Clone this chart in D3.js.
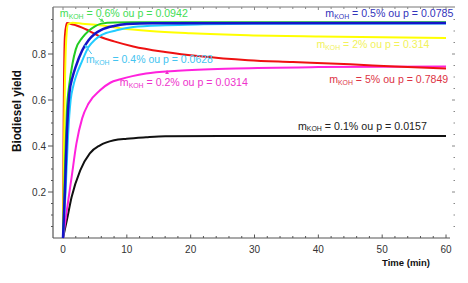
<!DOCTYPE html>
<html><head><meta charset="utf-8">
<script src="https://cdn.jsdelivr.net/npm/d3@7"></script>
<style>
body{margin:0;background:#fff;}
svg{display:block;}
text{font-family:"Liberation Sans",Arial,sans-serif;}
</style></head>
<body><svg id="c" width="468" height="283"></svg>
<script>
// ---- data (time in min, yield fraction) ----
const xTicks = [0, 10, 20, 30, 40, 50, 60];
const yTicks = [0.2, 0.4, 0.6, 0.8];
const red5 = [[0,0],[0.1,0.5],[0.3,0.88],[0.6,0.935],[1,0.933],[2,0.925],[3,0.915],[4,0.902],[6,0.873],[8,0.855],[11,0.833],[16,0.809],[21.5,0.79],[29,0.773],[36,0.765],[45,0.755],[52,0.746],[60,0.737]];
const yellow2 = [[0,0],[0.2,0.5],[0.5,0.86],[0.8,0.93],[1.5,0.936],[3,0.932],[5.8,0.925],[9,0.912],[13.6,0.9],[20,0.89],[29,0.881],[40,0.876],[50,0.873],[60,0.87]];
const green06 = [[0,0],[0.3,0.3],[0.6,0.55],[1,0.67],[1.5,0.76],[2,0.82],[3,0.87],[4,0.9],[5,0.92],[6,0.932],[8,0.937],[12,0.938],[60,0.938]];
const blue05 = [[0,0],[0.3,0.2],[0.6,0.45],[1,0.63],[1.5,0.7],[2,0.745],[3,0.815],[4,0.86],[5,0.888],[6,0.905],[8,0.922],[10,0.93],[14,0.934],[60,0.935]];
const cyan04 = [[0,0],[0.4,0.2],[0.8,0.45],[1.2,0.6],[1.6,0.66],[2,0.7],[3,0.77],[4,0.83],[5,0.862],[6,0.882],[8.4,0.903],[11,0.917],[16,0.925],[22,0.929],[30,0.931],[60,0.933]];
const magenta02 = [[0,0],[0.6,0.12],[1.35,0.265],[2.1,0.41],[3,0.52],[4,0.585],[5.8,0.642],[7.4,0.675],[9,0.69],[13,0.715],[18,0.727],[27,0.737],[40,0.743],[60,0.746]];
const black01 = [[0,0],[0.6,0.077],[1.35,0.178],[2.7,0.294],[4.2,0.368],[5.8,0.403],[8,0.425],[10,0.432],[13,0.438],[16,0.442],[25,0.443],[60,0.443]];
const seriesData = [black01, magenta02, red5, yellow2, cyan04, green06, blue05];
const seriesColors = ["#111111", "#ff22dd", "#ee1111", "#ffff00", "#22ccff", "#22cc22", "#1414c8"];
const seriesWidths = [2, 2, 2, 2, 2, 2, 2.5];
const labelMass = ["0.1%", "0.2%", "5%", "2%", "0.4%", "0.6%", "0.5%"];
const labelP = ["0.0157", "0.0314", "0.7849", "0.314", "0.0628", "0.0942", "0.0785"];
const labelColors = ["#222222", "#ee33cc", "#dd3344", "#f2f25a", "#44c4f0", "#44dd55", "#3434bb"];
// annotation anchors: [time, yield, width]
const labelAnchors = [[36.8,0.47,129],[8.9,0.66,128],[41.7,0.673,119],[39.7,0.825,113],[3.6,0.76,127],[-0.5,0.96,128],[41.1,0.96,128]];

const svg = d3.select("#c");
const x = d3.scaleLinear().domain([-1.567, 61.25]).range([53, 454]);
const y = d3.scaleLinear().domain([0, 1]).range([238, 8]);
const axisCol = "#555";

// frame lines
svg.append("line").attr("x1",53).attr("x2",53).attr("y1",7).attr("y2",238).attr("stroke",axisCol).attr("stroke-width",1.2);
svg.append("line").attr("x1",53).attr("x2",450).attr("y1",238).attr("y2",238).attr("stroke",axisCol).attr("stroke-width",1.2);
svg.append("line").attr("x1",53).attr("x2",455).attr("y1",7).attr("y2",7).attr("stroke","#777").attr("stroke-width",1);

// minor ticks
const xMinor = d3.range(0, 61, 2);
const yMinor = d3.range(0.05, 1.0, 0.05);
svg.append("g").selectAll("line").data(xMinor).join("line")
  .attr("x1",d=>x(d)).attr("x2",d=>x(d)).attr("y1",238).attr("y2",d=>d%10===0?234.5:236)
  .attr("stroke",axisCol).attr("stroke-width",1);
svg.append("g").selectAll("line").data(xMinor).join("line")
  .attr("x1",d=>x(d)).attr("x2",d=>x(d)).attr("y1",7).attr("y2",d=>d%10===0?10:9)
  .attr("stroke","#888").attr("stroke-width",1);
svg.append("g").selectAll("line").data(yMinor).join("line")
  .attr("x1",53).attr("x2",d=>Math.abs(d*10-Math.round(d*10))<1e-6 && Math.round(d*10)%2===0?48:51)
  .attr("y1",d=>y(d)).attr("y2",d=>y(d)).attr("stroke",axisCol).attr("stroke-width",1);
svg.append("g").selectAll("line").data(yMinor).join("line")
  .attr("x1",d=>Math.abs(d*10-Math.round(d*10))<1e-6 && Math.round(d*10)%2===0?452:453.5).attr("x2",455)
  .attr("y1",d=>y(d)).attr("y2",d=>y(d)).attr("stroke","#888").attr("stroke-width",1);

// tick labels
svg.append("g").selectAll("text").data(yTicks).join("text")
  .attr("x",46).attr("y",d=>y(d)+3.5).attr("text-anchor","end")
  .attr("font-size",10).attr("fill","#333").text(d=>d.toFixed(1));
svg.append("g").selectAll("text").data(xTicks).join("text")
  .attr("x",d=>x(d)).attr("y",253).attr("text-anchor","middle")
  .attr("font-size",10).attr("fill","#333").text(d=>d);

// axis titles
svg.append("text").attr("transform","translate(21,111) rotate(-90)")
  .attr("text-anchor","middle").attr("font-size",12).attr("font-weight","bold")
  .attr("fill","#111").attr("textLength",82).attr("lengthAdjust","spacingAndGlyphs").text("Biodiesel yield");
svg.append("text").attr("x",382).attr("y",266).attr("font-size",9.5).attr("font-weight","bold")
  .attr("fill","#111").attr("textLength",48).attr("lengthAdjust","spacingAndGlyphs").text("Time (min)");

// curves
const line = d3.line().x(d=>x(d[0])).y(d=>y(d[1])).curve(d3.curveMonotoneX);
svg.append("g").selectAll("path").data(seriesData).join("path")
  .attr("d",line).attr("fill","none")
  .attr("stroke",(d,i)=>seriesColors[i]).attr("stroke-width",(d,i)=>seriesWidths[i])
  .attr("stroke-linejoin","round");

// annotations
labelAnchors.forEach((a,i)=>{
  const t = svg.append("text").attr("x",x(a[0])).attr("y",y(a[1]))
    .attr("font-size",10).attr("fill",labelColors[i])
    .attr("textLength",a[2]).attr("lengthAdjust","spacingAndGlyphs");
  t.append("tspan").text("m");
  t.append("tspan").attr("font-size",6.5).attr("dy",1.5).text("KOH");
  t.append("tspan").attr("dy",-1.5).text(" = " + labelMass[i] + " ou p = " + labelP[i]);
});

// small pointer arrows
const arrows = [[5.6,0.955,6.4,0.94,"#44dd55"],[4.5,0.8,3.4,0.84,"#44c4f0"],[16.3,0.716,16.3,0.728,"#ee33cc"]];
arrows.forEach(a=>{
  svg.append("line").attr("x1",x(a[0])).attr("y1",y(a[1])).attr("x2",x(a[2])).attr("y2",y(a[3]))
    .attr("stroke",a[4]).attr("stroke-width",1);
  const ang = Math.atan2(y(a[3])-y(a[1]), x(a[2])-x(a[0]));
  const hx = x(a[2]), hy = y(a[3]);
  const p = [[hx,hy],[hx-4*Math.cos(ang-0.5),hy-4*Math.sin(ang-0.5)],[hx-4*Math.cos(ang+0.5),hy-4*Math.sin(ang+0.5)]];
  svg.append("path").attr("d","M"+p.map(q=>q.join(",")).join("L")+"Z").attr("fill",a[4]);
});
</script></body></html>
